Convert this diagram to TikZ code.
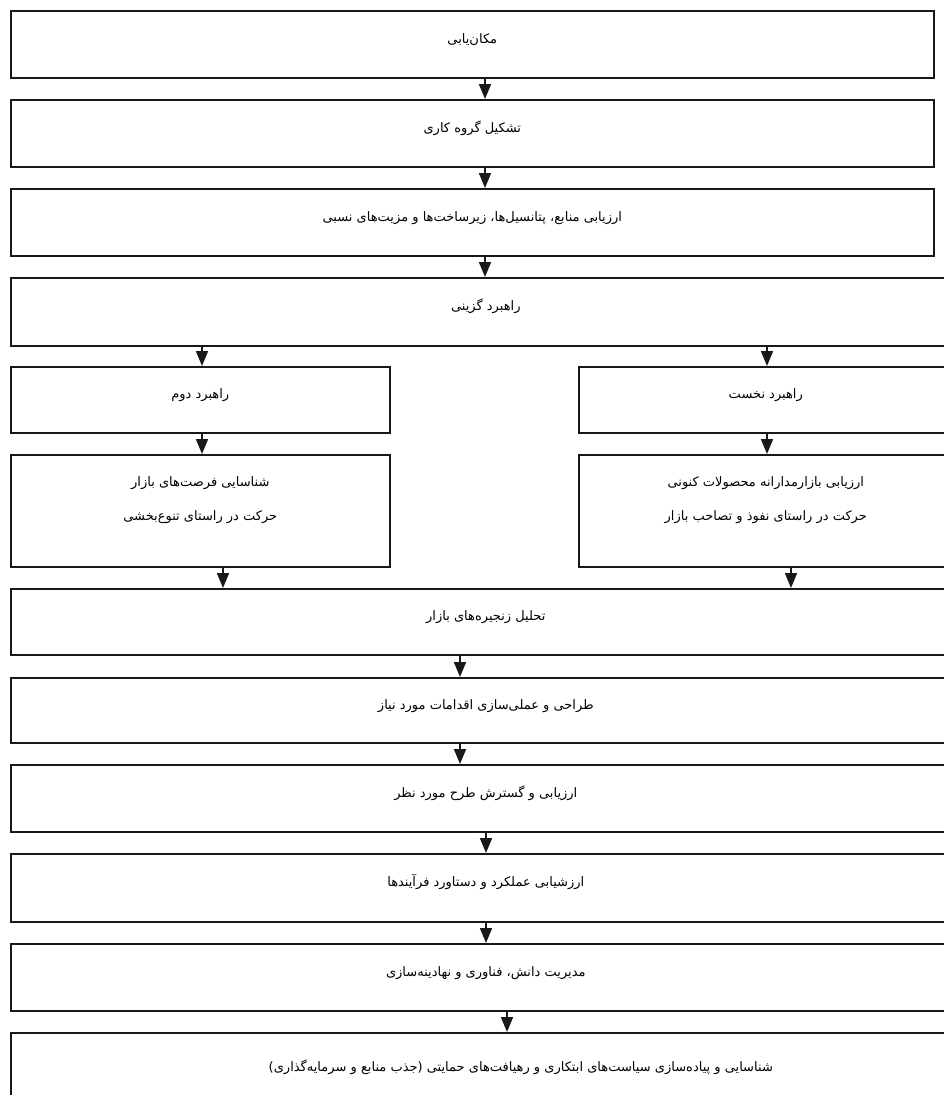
\documentclass[tikz,border=0pt]{standalone}
\usepackage{fontspec}
\usetikzlibrary{arrows.meta}
\newfontfamily\farsi[Script=Arabic]{DejaVu Sans}
\TeXXeTstate=1

\begin{document}
\begin{tikzpicture}[x=1pt,y=-1pt]
    \tikzset{
        stage/.style={draw=black!90, line width=1.6pt, anchor=north west, inner sep=0pt,
            font=\farsi\fontsize{13}{34}\selectfont, text height=8pt, text depth=10pt},
        twoline/.style={stage, align=center, text height=20pt, text depth=0pt},
        flow/.style={draw=black!90, line width=1.7pt, -{Triangle[width=12pt,length=15pt]}}
    }
    \useasboundingbox (0,0) rectangle (944,1095);
    \clip (0,0) rectangle (944,1095);

    % main column
    \node[stage, minimum width=923pt, minimum height=67pt] (b1) at (10,10) {\beginR مکان‌یابی\endR};
    \node[stage, minimum width=923pt, minimum height=67pt] (b2) at (10,99) {\beginR تشکیل گروه کاری\endR};
    \node[stage, minimum width=923pt, minimum height=67pt] (b3) at (10,188) {\beginR ارزیابی منابع، پتانسیل‌ها، زیرساخت‌ها و مزیت‌های نسبی\endR};
    \node[stage, minimum width=950pt, minimum height=68pt] (b4) at (10,277) {\beginR راهبرد گزینی\endR};

    % two strategies
    \node[stage, minimum width=379pt, minimum height=66pt] (l1) at (10,366) {\beginR راهبرد دوم\endR};
    \node[stage, minimum width=374pt, minimum height=66pt] (r1) at (578,366) {\beginR راهبرد نخست\endR};
    \node[twoline, minimum width=379pt, minimum height=112pt] (l2) at (10,454)
        {{\beginR شناسایی فرصت‌های بازار\endR}\\{\beginR حرکت در راستای تنوع‌بخشی\endR}};
    \node[twoline, minimum width=374pt, minimum height=112pt] (r2) at (578,454)
        {{\beginR ارزیابی بازارمدارانه محصولات کنونی\endR}\\{\beginR حرکت در راستای نفوذ و تصاحب بازار\endR}};

    % lower column
    \node[stage, minimum width=950pt, minimum height=66pt] (b5) at (10,588) {\beginR تحلیل زنجیره‌های بازار\endR};
    \node[stage, minimum width=950pt, minimum height=65pt] (b6) at (10,677) {\beginR طراحی و عملی‌سازی اقدامات مورد نیاز\endR};
    \node[stage, minimum width=950pt, minimum height=67pt] (b7) at (10,764) {\beginR ارزیابی و گسترش طرح مورد نظر\endR};
    \node[stage, minimum width=950pt, minimum height=68pt] (b8) at (10,853) {\beginR ارزشیابی عملکرد و دستاورد فرآیندها\endR};
    \node[stage, minimum width=950pt, minimum height=67pt] (b9) at (10,943) {\beginR مدیریت دانش، فناوری و نهادینه‌سازی\endR};
    \node[stage, minimum width=1020pt, minimum height=80pt] (b10) at (10,1032) {\beginR شناسایی و پیاده‌سازی سیاست‌های ابتکاری و رهیافت‌های حمایتی (جذب منابع و سرمایه‌گذاری)\endR};

    \foreach \a/\b/\x in {b1/b2/485, b2/b3/485, b3/b4/485, b4/l1/202, b4/r1/767,
                          l1/l2/202, r1/r2/767, l2/b5/223, r2/b5/791,
                          b5/b6/460, b6/b7/460, b7/b8/486, b8/b9/486, b9/b10/507}{
        \draw[flow] (\x,0 |- \a.south) -- (\x,0 |- \b.north);
    }
\end{tikzpicture}
\end{document}
